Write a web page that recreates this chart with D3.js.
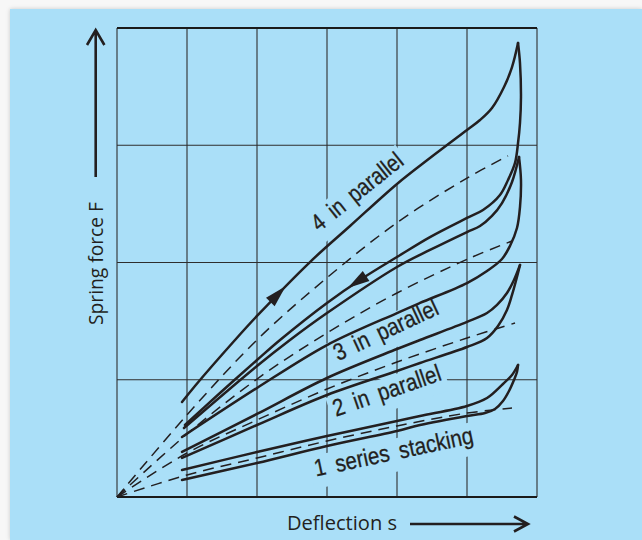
<!DOCTYPE html>
<html lang="en">
<head>
<meta charset="UTF-8">
<title>Disc spring stacks - spring force vs deflection</title>
<script src="https://d3js.org/d3.v7.min.js"></script>
<style>
    html, body {
        margin: 0;
        padding: 0;
        background: #f7f7f7;
    }
    svg {
        display: block;
    }
    .grid line {
        stroke: #2e2e2e;
        stroke-width: 1.1;
    }
    .curve {
        fill: none;
        stroke: #231f20;
        stroke-width: 2.5;
        stroke-linejoin: round;
        stroke-linecap: round;
    }
    .theory {
        fill: none;
        stroke: #231f20;
        stroke-width: 1.5;
        stroke-dasharray: 11 7;
    }
    .label {
        font-family: "Liberation Sans Narrow", "Liberation Sans", Arial, sans-serif;
        font-size: 24px;
        word-spacing: 5px;
        fill: #231f20;
        stroke: #231f20;
        stroke-width: 0.3;
    }
    .axis-title {
        font-family: "Open Sans", "Noto Sans", sans-serif;
        font-size: 19.5px;
        fill: #231f20;
    }
    .axis-arrow {
        fill: none;
        stroke: #231f20;
        stroke-width: 2.6;
    }
</style>
</head>
<body>
<div id="chart"></div>
<script>
    // grid divisions (no tick labels in the original)
    const gridS = [0, 1, 2, 3, 4, 5, 6];
    const gridF = [0, 1, 2, 3, 4];

    // [deflection s, spring force F] in grid units
    // loading branches (with friction), left to right up to the peak
    const load4 = [[0.929, 0.810], [1.114, 0.947], [1.686, 1.339], [2.0, 1.544], [2.757, 2.004], [3.329, 2.311],
        [4.0, 2.670], [4.471, 2.891], [5.0, 3.130], [5.186, 3.215], [5.357, 3.318], [5.529, 3.497], [5.643, 3.667], [5.729, 3.872]];
    const load3 = [[0.957, 0.588], [2.0, 1.117], [2.471, 1.339], [3.0, 1.569], [4.0, 1.962], [4.471, 2.107],
        [5.0, 2.260], [5.186, 2.311], [5.357, 2.397], [5.5, 2.507], [5.643, 2.687], [5.743, 2.900]];
    const load2 = [[0.929, 0.384], [2.0, 0.708], [3.0, 1.015], [4.0, 1.262], [4.329, 1.339], [5.0, 1.493],
        [5.286, 1.569], [5.429, 1.638], [5.571, 1.740], [5.671, 1.851], [5.757, 1.979]];
    const load1 = [[0.929, 0.230], [2.0, 0.384], [3.0, 0.520], [4.0, 0.648], [4.329, 0.691], [5.0, 0.776],
        [5.286, 0.844], [5.514, 0.964], [5.643, 1.041], [5.729, 1.126]];

    // unloading branches, from the peak back to the left
    const unload4 = [[5.729, 3.872], [5.757, 3.701], [5.771, 3.412], [5.757, 3.190], [5.729, 3.019], [5.686, 2.849],
        [5.586, 2.704], [5.471, 2.576], [5.229, 2.448], [5.0, 2.380], [4.471, 2.217], [4.0, 2.047], [3.514, 1.868],
        [3.0, 1.655], [2.329, 1.339], [2.0, 1.168], [1.471, 0.887], [0.971, 0.614]];
    const unload3 = [[5.743, 2.900], [5.771, 2.704], [5.757, 2.473], [5.714, 2.294], [5.614, 2.141], [5.5, 2.030],
        [5.286, 1.928], [5.0, 1.825], [4.329, 1.655], [4.0, 1.569], [3.0, 1.296], [2.0, 0.930], [0.929, 0.512]];
    const unload2 = [[5.757, 1.979], [5.714, 1.876], [5.643, 1.723], [5.571, 1.595], [5.443, 1.458], [5.286, 1.356],
        [5.0, 1.279], [4.329, 1.143], [4.0, 1.075], [3.0, 0.870], [2.0, 0.614], [0.929, 0.333]];
    const unload1 = [[5.729, 1.126], [5.714, 1.066], [5.671, 0.998], [5.6, 0.904], [5.514, 0.819], [5.4, 0.751],
        [5.257, 0.716], [5.0, 0.691], [4.329, 0.614], [4.0, 0.563], [3.0, 0.435], [2.0, 0.290], [0.929, 0.145]];

    // theoretical characteristics (dashed), from the origin
    const theory4 = [[0, 0], [1, 0.70], [2, 1.34], [3, 1.87], [4, 2.34], [5, 2.72], [5.586, 2.91]];
    const theory3 = [[0, 0], [1, 0.537], [2, 1.006], [3, 1.399], [4, 1.740], [5.043, 2.038], [5.643, 2.183]];
    const theory2 = [[0, 0], [1, 0.375], [2, 0.657], [3, 0.921], [4, 1.151], [5, 1.356], [5.686, 1.484]];
    const theory1 = [[0, 0], [1, 0.188], [2, 0.333], [3, 0.478], [4, 0.606], [5, 0.716], [5.643, 0.759]];

    // curve labels: text, baseline start (s, F), angle
    const labelText = ["4 in parallel", "3 in parallel", "2 in parallel", "1 series stacking"];
    const labelS = [2.886, 3.157, 3.129, 2.843];
    const labelF = [2.259, 1.158, 0.685, 0.174];
    const labelAngle = [-38.5, -25, -19, -12];

    // direction arrows on the 4-in-parallel loop (deflection of arrow centre)
    const arrowCurve = ["load4", "unload4"];
    const arrowS = [2.3, 3.43];

    const width = 642;
    const height = 540;

    const x = d3.scaleLinear().domain([0, 6]).range([117, 537]);
    const y = d3.scaleLinear().domain([0, 4]).range([497, 28]);

    const bg = '#aadff8';

    const svg = d3.select('#chart')
        .append('svg')
        .attr('width', width)
        .attr('height', height);

    svg.append('rect')
        .attr('x', 10)
        .attr('y', 9)
        .attr('width', width - 10)
        .attr('height', height - 9)
        .attr('fill', bg)
        .style('filter', 'drop-shadow(0 0 2px rgba(0,0,0,0.18))');

    // grid
    const grid = svg.append('g').attr('class', 'grid');
    grid.selectAll('.v')
        .data(gridS)
        .enter().append('line')
        .attr('x1', d => x(d)).attr('x2', d => x(d))
        .attr('y1', y(4)).attr('y2', y(0));
    grid.selectAll('.h')
        .data(gridF)
        .enter().append('line')
        .attr('x1', x(0)).attr('x2', x(6))
        .attr('y1', d => y(d)).attr('y2', d => y(d))
        .style('stroke-width', d => (d === 0 || d === 4) ? 2.2 : null)
        .style('stroke', d => (d === 0 || d === 4) ? '#1a1a1a' : null);

    // labels with a knock-out band behind them (cuts the grid lines)
    const labels = svg.selectAll('.lab')
        .data(labelText)
        .enter().append('g')
        .attr('transform', (d, i) => `translate(${x(labelS[i])},${y(labelF[i])}) rotate(${labelAngle[i]})`);

    const labelLen = [110, 113, 113, 162];
    labels.append('rect')
        .attr('x', -4)
        .attr('y', -21)
        .attr('width', (d, i) => labelLen[i] + 8)
        .attr('height', 33)
        .attr('fill', bg);

    labels.append('text')
        .attr('class', 'label')
        .attr('textLength', (d, i) => labelLen[i])
        .attr('lengthAdjust', 'spacingAndGlyphs')
        .text(d => d);

    // curves
    const line = d3.line()
        .x(d => x(d[0]))
        .y(d => y(d[1]))
        .curve(d3.curveCatmullRom.alpha(0.5));

    const theories = [theory4, theory3, theory2, theory1];
    svg.selectAll('.theory')
        .data(theories)
        .enter().append('path')
        .attr('class', 'theory')
        .attr('d', line);

    const curves = { load4, load3, load2, load1, unload4, unload3, unload2, unload1 };
    const paths = {};
    Object.keys(curves).forEach(name => {
        paths[name] = svg.append('path')
            .datum(curves[name])
            .attr('class', 'curve')
            .attr('d', line);
    });

    // arrowheads placed on the drawn path, pointing along its direction
    arrowCurve.forEach((name, i) => {
        const node = paths[name].node();
        const total = node.getTotalLength();
        const tx = x(arrowS[i]);
        let best = 0, bestD = Infinity;
        for (let l = 0; l <= total; l += 0.5) {
            const p = node.getPointAtLength(l);
            const dd = Math.abs(p.x - tx);
            if (dd < bestD) { bestD = dd; best = l; }
        }
        const p = node.getPointAtLength(best);
        const p1 = node.getPointAtLength(Math.max(0, best - 3));
        const p2 = node.getPointAtLength(Math.min(total, best + 3));
        const ang = Math.atan2(p2.y - p1.y, p2.x - p1.x) * 180 / Math.PI;
        svg.append('path')
            .attr('d', 'M11,0 L-11,-6 L-11,6 Z')
            .attr('fill', '#231f20')
            .attr('transform', `translate(${p.x},${p.y}) rotate(${ang})`);
    });

    // axis titles with arrows
    svg.append('text')
        .attr('class', 'axis-title')
        .attr('transform', `translate(${x(0) - 14},${y(2) + 1}) rotate(-90)`)
        .attr('text-anchor', 'middle')
        .attr('textLength', 123)
        .attr('lengthAdjust', 'spacingAndGlyphs')
        .text('Spring force F');

    const ax = x(0) - 21.3;
    svg.append('path')
        .attr('class', 'axis-arrow')
        .attr('d', `M${ax},177 L${ax},31 M${ax - 8.7},45 L${ax},30 L${ax + 8.7},45`);

    svg.append('text')
        .attr('class', 'axis-title')
        .attr('x', 287)
        .attr('y', 529.5)
        .attr('textLength', 110)
        .attr('lengthAdjust', 'spacingAndGlyphs')
        .text('Deflection s');

    svg.append('path')
        .attr('class', 'axis-arrow')
        .attr('d', 'M410,524 L527,524 M514,516.5 L528,524 L514,531.5');
</script>
</body>
</html>
